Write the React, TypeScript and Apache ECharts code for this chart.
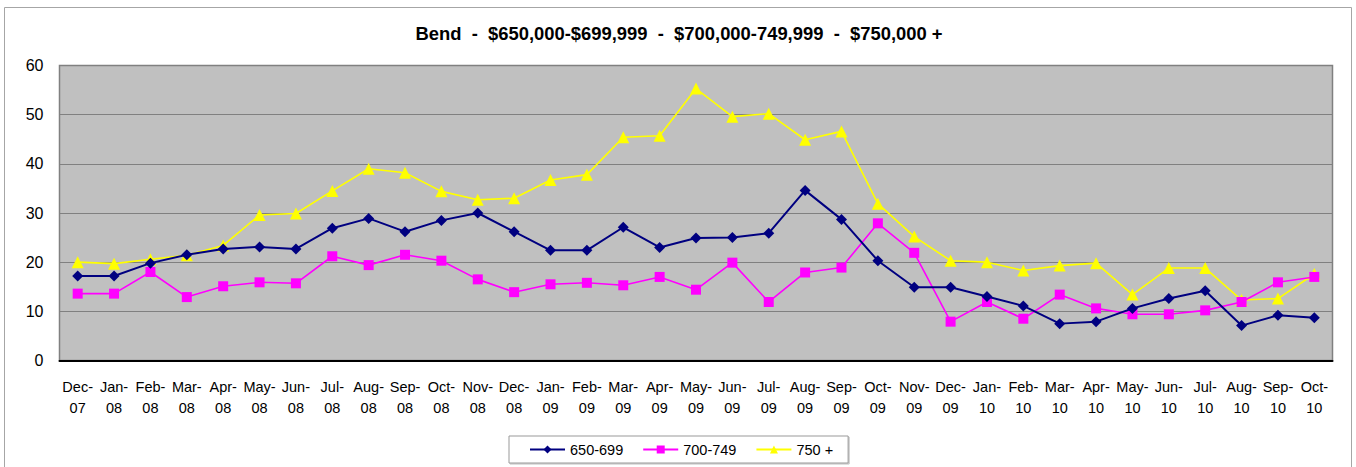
import React, { useEffect, useRef } from "react";
import * as echarts from "echarts";

const categories = [
  "Dec-07", "Jan-08", "Feb-08", "Mar-08", "Apr-08", "May-08", "Jun-08", "Jul-08", "Aug-08", "Sep-08", "Oct-08", "Nov-08",
  "Dec-08", "Jan-09", "Feb-09", "Mar-09", "Apr-09", "May-09", "Jun-09", "Jul-09", "Aug-09", "Sep-09", "Oct-09", "Nov-09",
  "Dec-09", "Jan-10", "Feb-10", "Mar-10", "Apr-10", "May-10", "Jun-10", "Jul-10", "Aug-10", "Sep-10", "Oct-10",
];

const s650 = [
  17.2, 17.2, 19.8, 21.5, 22.7, 23.1, 22.7, 26.9, 28.9, 26.2, 28.5, 30.0,
  26.2, 22.4, 22.4, 27.1, 23.0, 24.9, 25.0, 25.9, 34.6, 28.7, 20.3, 14.9,
  14.9, 13.0, 11.1, 7.5, 7.9, 10.6, 12.6, 14.2, 7.1, 9.2, 8.7,
];

const s700 = [
  13.6, 13.6, 18.0, 12.9, 15.1, 15.9, 15.7, 21.2, 19.4, 21.5, 20.3, 16.5,
  13.9, 15.5, 15.8, 15.3, 17.0, 14.4, 19.9, 11.9, 17.9, 18.9, 27.9, 21.9,
  7.9, 11.9, 8.5, 13.4, 10.6, 9.4, 9.4, 10.2, 11.9, 15.9, 17.0,
];

const s750 = [
  20.0, 19.7, 20.6, 21.4, 23.4, 29.6, 29.9, 34.5, 39.0, 38.2, 34.4, 32.7,
  33.0, 36.7, 37.8, 45.4, 45.7, 55.3, 49.6, 50.2, 44.9, 46.6, 31.9, 25.2,
  20.3, 20.0, 18.3, 19.3, 19.8, 13.4, 18.8, 18.8, 12.3, 12.6, 17.6,
];

const seriesNames = ["650-699", "700-749", "750 +"];
const titleText = "Bend  -  $650,000-$699,999  -  $700,000-749,999  -  $750,000 +";

const FONT = "'Liberation Sans', Arial, sans-serif";

export default function App() {
  const ref = useRef<HTMLDivElement>(null);
  useEffect(() => {
    if (!ref.current) return;
    const chart = echarts.init(ref.current, null, { renderer: "svg" });
    chart.setOption({
      animation: false,
      backgroundColor: "#ffffff",
      textStyle: { fontFamily: FONT },
      title: {
        text: titleText,
        left: 674,
        top: 19,
        textAlign: "center",
        textStyle: { fontFamily: FONT, fontSize: 18.4, fontWeight: "bold", color: "#000" },
      },
      graphic: [
        {
          type: "rect",
          shape: { x: 4.5, y: 7.5, width: 1347, height: 480 },
          style: { fill: "none", stroke: "#a6a6a6", lineWidth: 1 },
          silent: true,
          z: -1,
        },
      ],
      legend: {
        left: 509,
        top: 436,
        data: seriesNames,
        itemWidth: 35,
        itemHeight: 10,
        itemGap: 19,
        padding: [6, 15, 6, 20],
        borderColor: "#999",
        borderWidth: 1,
        backgroundColor: "#fff",
        shadowColor: "rgba(0,0,0,0.25)",
        shadowOffsetX: 1,
        shadowOffsetY: 1,
        textStyle: { fontFamily: FONT, fontSize: 14.5, color: "#000" },
      },
      grid: {
        left: 59.5,
        top: 65.5,
        right: 23.5,
        bottom: 106.5,
        show: true,
        backgroundColor: "#C0C0C0",
        borderColor: "#808080",
        borderWidth: 1.5,
      },
      xAxis: {
        type: "category",
        data: categories,
        boundaryGap: true,
        axisLine: { show: true, lineStyle: { color: "#000", width: 2 } },
        axisTick: { show: false },
        axisLabel: {
          interval: 0,
          margin: 16,
          fontFamily: FONT,
          fontSize: 14.5,
          color: "#000",
          lineHeight: 21,
          formatter: (v: string) => v.replace("-", "-\n"),
        },
      },
      yAxis: {
        type: "value",
        min: 0,
        max: 60,
        interval: 10,
        axisLine: { show: false },
        axisTick: { show: false },
        axisLabel: { fontFamily: FONT, fontSize: 16, color: "#000", margin: 16 },
        splitLine: { show: true, lineStyle: { color: "#808080", width: 1.2 } },
      },
      series: [
        {
          name: seriesNames[0],
          type: "line",
          data: s650,
          symbol: "diamond",
          symbolSize: 11,
          lineStyle: { color: "#000080", width: 2 },
          itemStyle: { color: "#000080" },
          z: 4,
        },
        {
          name: seriesNames[1],
          type: "line",
          data: s700,
          symbol: "rect",
          symbolSize: 10,
          lineStyle: { color: "#FF00FF", width: 1.6 },
          itemStyle: { color: "#FF00FF" },
          z: 3,
        },
        {
          name: seriesNames[2],
          type: "line",
          data: s750,
          symbol: "triangle",
          symbolSize: 12,
          lineStyle: { color: "#FFFF00", width: 1.6 },
          itemStyle: { color: "#FFFF00" },
          z: 2,
        },
      ],
    });
    return () => chart.dispose();
  }, []);
  return (
    <div
      ref={ref}
      style={{ position: "fixed", left: 0, top: 0, width: 1356, height: 467 }}
    />
  );
}
